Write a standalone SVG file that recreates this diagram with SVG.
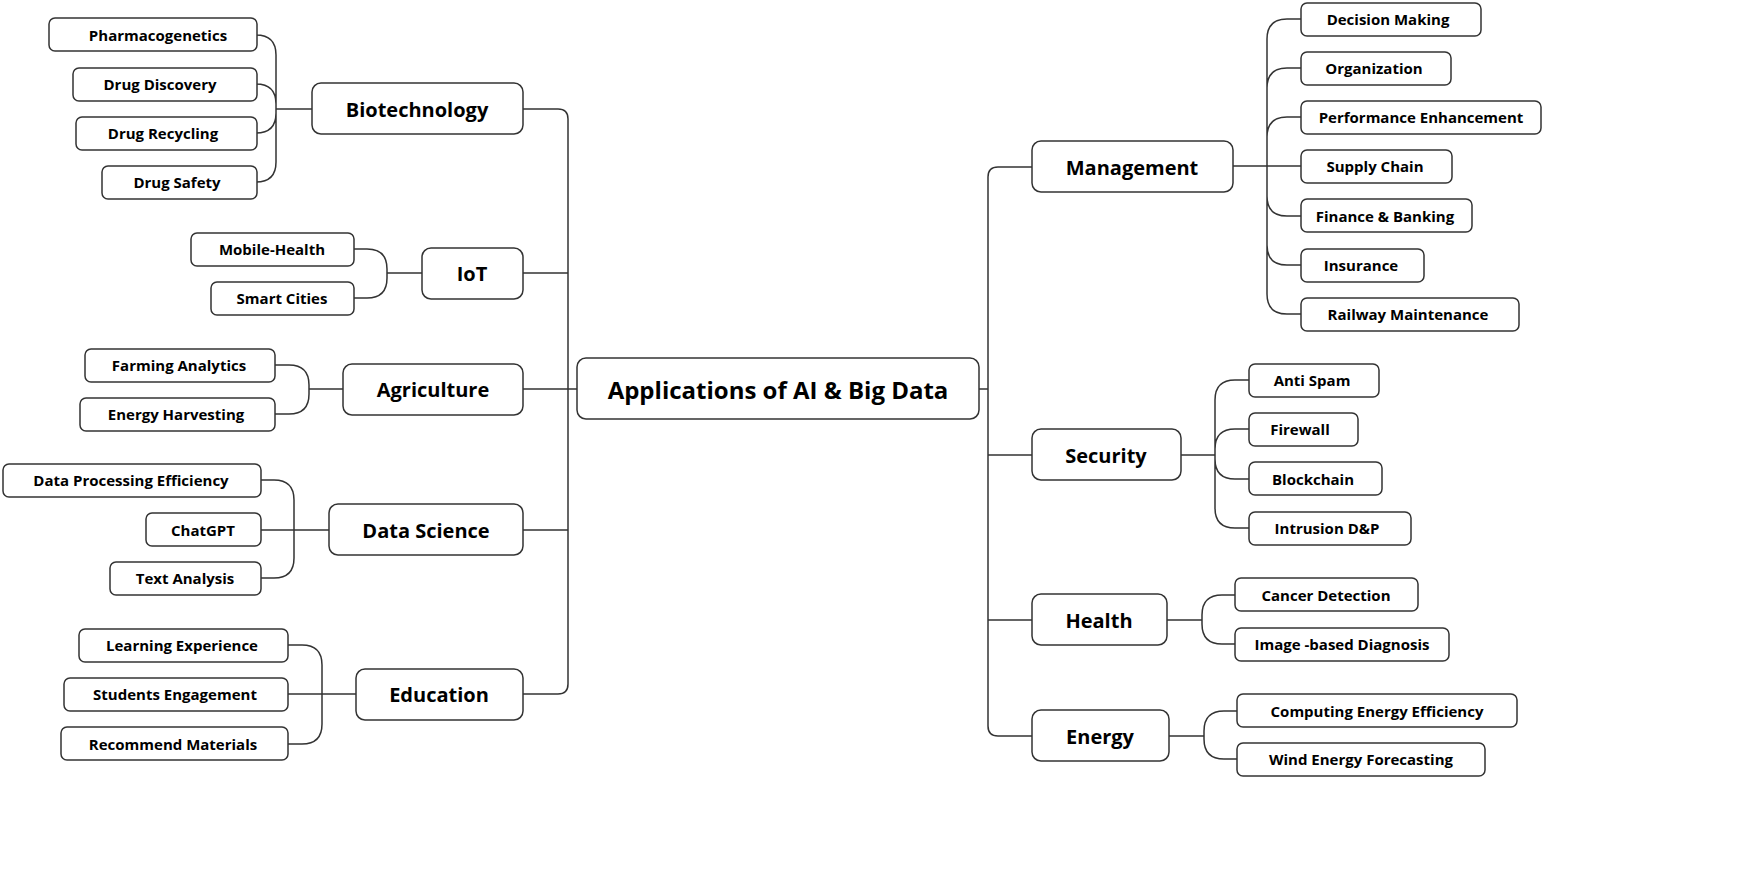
<svg xmlns="http://www.w3.org/2000/svg" width="1755" height="873" viewBox="0 0 1755 873">
<style>
rect{fill:#fff;stroke:#333;stroke-width:1.5}
.c rect{rx:6}
.p rect{rx:9}
text{font-family:"Open Sans","Noto Sans","DejaVu Sans",sans-serif;font-weight:bold;fill:#000;text-anchor:middle;dominant-baseline:central}
.c text{font-size:15px}
.p text{font-size:20px}
#conn path{fill:none;stroke:#333;stroke-width:1.5}
</style>
<rect x="0" y="0" width="1755" height="873" style="fill:#fff;stroke:none"/>
<g id="conn">
<path d="M257,35 H256 Q276,35 276,55 V109 M257,84 H256 Q276,84 276,104 V109 M257,133 H256 Q276,133 276,113 V109 M257,182 H256 Q276,182 276,162 V109 M276,109 H312"/>
<path d="M354,249 H367 Q387,249 387,269 V273 M354,298 H367 Q387,298 387,278 V273 M387,273 H422"/>
<path d="M275,365 H289 Q309,365 309,385 V389 M275,414 H289 Q309,414 309,394 V389 M309,389 H343"/>
<path d="M261,480 H274 Q294,480 294,500 V530 M261,530 H329 M261,578 H274 Q294,578 294,558 V530"/>
<path d="M288,645 H302 Q322,645 322,665 V694 M288,694 H356 M288,744 H302 Q322,744 322,724 V694"/>
<path d="M523,109 H558 Q568,109 568,119 V389 M523,273 H568 M523,389 H577 M523,530 H568 M523,694 H558 Q568,694 568,684 V389"/>
<path d="M979,389 H988 M1032,167 H998 Q988,167 988,177 V389 M1032,455 H988 M1032,620 H988 M1032,736 H998 Q988,736 988,726 V389"/>
<path d="M1301,19 H1287 Q1267,19 1267,39 V167 M1301,68 H1287 Q1267,68 1267,88 V167 M1301,117 H1287 Q1267,117 1267,137 V167 M1301,166 H1233 M1301,216 H1287 Q1267,216 1267,196 V167 M1301,265 H1287 Q1267,265 1267,245 V167 M1301,314 H1287 Q1267,314 1267,294 V167"/>
<path d="M1249,380 H1235 Q1215,380 1215,400 V455 M1249,429 H1235 Q1215,429 1215,449 V455 M1249,479 H1235 Q1215,479 1215,459 V455 M1249,528 H1235 Q1215,528 1215,508 V455 M1181,455 H1215"/>
<path d="M1235,595 H1222 Q1202,595 1202,615 V620 M1235,644 H1222 Q1202,644 1202,624 V620 M1167,620 H1202"/>
<path d="M1237,711 H1224 Q1204,711 1204,731 V736 M1237,759 H1224 Q1204,759 1204,739 V736 M1169,736 H1204"/>
</g>
<g id="root" class="p"><rect x="577" y="358" width="402" height="61" rx="10"/><text x="778" y="389" style="font-size:24px">Applications of AI &amp; Big Data</text></g>
<g id="biotech" class="p"><rect x="312" y="83" width="211" height="51"/><text x="417" y="109">Biotechnology</text></g>
<g id="iot" class="p"><rect x="422" y="248" width="101" height="51"/><text x="472" y="273">IoT</text></g>
<g id="agri" class="p"><rect x="343" y="364" width="180" height="51"/><text x="433" y="389">Agriculture</text></g>
<g id="ds" class="p"><rect x="329" y="504" width="194" height="51"/><text x="426" y="530">Data Science</text></g>
<g id="edu" class="p"><rect x="356" y="669" width="167" height="51"/><text x="439" y="694">Education</text></g>
<g id="mgmt" class="p"><rect x="1032" y="141" width="201" height="51"/><text x="1132" y="167">Management</text></g>
<g id="sec" class="p"><rect x="1032" y="429" width="149" height="51"/><text x="1106" y="455">Security</text></g>
<g id="health" class="p"><rect x="1032" y="594" width="135" height="51"/><text x="1099" y="620">Health</text></g>
<g id="energy" class="p"><rect x="1032" y="710" width="137" height="51"/><text x="1100" y="736">Energy</text></g>
<g id="pharm" class="c"><rect x="49" y="18" width="208" height="33"/><text x="158" y="35">Pharmacogenetics</text></g>
<g id="drugdisc" class="c"><rect x="73" y="68" width="184" height="33"/><text x="160" y="84">Drug Discovery</text></g>
<g id="drugrec" class="c"><rect x="76" y="117" width="181" height="33"/><text x="163" y="133">Drug Recycling</text></g>
<g id="drugsafe" class="c"><rect x="102" y="166" width="155" height="33"/><text x="177" y="182">Drug Safety</text></g>
<g id="mhealth" class="c"><rect x="191" y="233" width="163" height="33"/><text x="272" y="249">Mobile-Health</text></g>
<g id="smart" class="c"><rect x="211" y="282" width="143" height="33"/><text x="282" y="298">Smart Cities</text></g>
<g id="farm" class="c"><rect x="85" y="349" width="190" height="33"/><text x="179" y="365">Farming Analytics</text></g>
<g id="harvest" class="c"><rect x="80" y="398" width="195" height="33"/><text x="176" y="414">Energy Harvesting</text></g>
<g id="dpe" class="c"><rect x="3" y="464" width="258" height="33"/><text x="131" y="480">Data Processing Efficiency</text></g>
<g id="chatgpt" class="c"><rect x="146" y="513" width="115" height="33"/><text x="203" y="530">ChatGPT</text></g>
<g id="text" class="c"><rect x="110" y="562" width="151" height="33"/><text x="185" y="578">Text Analysis</text></g>
<g id="learn" class="c"><rect x="79" y="629" width="209" height="33"/><text x="182" y="645">Learning Experience</text></g>
<g id="students" class="c"><rect x="64" y="678" width="224" height="33"/><text x="175" y="694">Students Engagement</text></g>
<g id="recommend" class="c"><rect x="61" y="727" width="227" height="33"/><text x="173" y="744">Recommend Materials</text></g>
<g id="decision" class="c"><rect x="1301" y="3" width="180" height="33"/><text x="1388" y="19">Decision Making</text></g>
<g id="org" class="c"><rect x="1301" y="52" width="150" height="33"/><text x="1374" y="68">Organization</text></g>
<g id="perf" class="c"><rect x="1301" y="101" width="240" height="33"/><text x="1421" y="117">Performance Enhancement</text></g>
<g id="supply" class="c"><rect x="1301" y="150" width="151" height="33"/><text x="1375" y="166">Supply Chain</text></g>
<g id="finance" class="c"><rect x="1301" y="199" width="171" height="33"/><text x="1385" y="216">Finance &amp; Banking</text></g>
<g id="insurance" class="c"><rect x="1301" y="249" width="123" height="33"/><text x="1361" y="265">Insurance</text></g>
<g id="railway" class="c"><rect x="1301" y="298" width="218" height="33"/><text x="1408" y="314">Railway Maintenance</text></g>
<g id="antispam" class="c"><rect x="1249" y="364" width="130" height="33"/><text x="1312" y="380">Anti Spam</text></g>
<g id="firewall" class="c"><rect x="1249" y="413" width="109" height="33"/><text x="1300" y="429">Firewall</text></g>
<g id="blockchain" class="c"><rect x="1249" y="462" width="133" height="33"/><text x="1313" y="479">Blockchain</text></g>
<g id="intrusion" class="c"><rect x="1249" y="512" width="162" height="33"/><text x="1327" y="528">Intrusion D&amp;P</text></g>
<g id="cancer" class="c"><rect x="1235" y="578" width="183" height="33"/><text x="1326" y="595">Cancer Detection</text></g>
<g id="image" class="c"><rect x="1235" y="628" width="214" height="33"/><text x="1342" y="644">Image -based Diagnosis</text></g>
<g id="compute" class="c"><rect x="1237" y="694" width="280" height="33"/><text x="1377" y="711">Computing Energy Efficiency</text></g>
<g id="wind" class="c"><rect x="1237" y="743" width="248" height="33"/><text x="1361" y="759">Wind Energy Forecasting</text></g>
</svg>
